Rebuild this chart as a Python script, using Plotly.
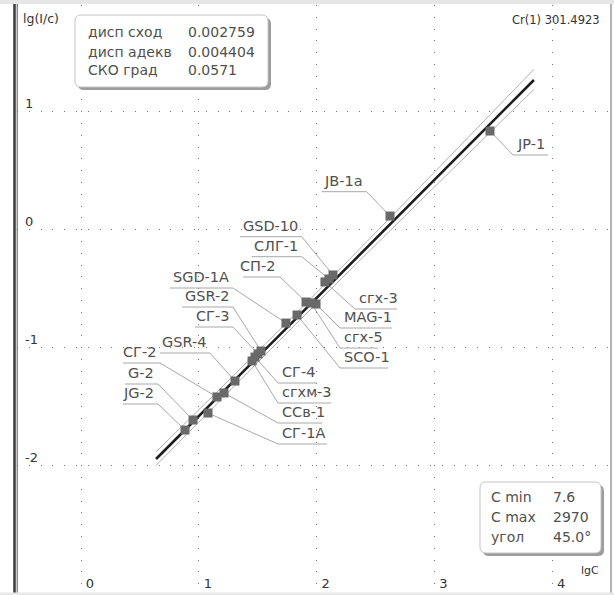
import plotly.graph_objects as go

# ---------------- data ----------------
samples = ["JP-1", "JB-1a", "GSD-10", "СЛГ-1", "сгх-3", "СП-2", "сгх-5", "MAG-1", "SCO-1", "SGD-1A",
           "GSR-2", "СГ-3", "СГ-4", "сгхм-3", "GSR-4", "ССв-1", "СГ-2", "СГ-1А", "G-2", "JG-2"]
lg_c = [3.472, 2.623, 2.139, 2.105, 2.071, 1.910, 1.952, 1.995, 1.834, 1.740,
        1.528, 1.503, 1.477, 1.452, 1.307, 1.214, 1.154, 1.078, 0.951, 0.883]
lg_i = [0.834, 0.114, -0.385, -0.419, -0.444, -0.614, -0.622, -0.631, -0.724, -0.792,
        -1.029, -1.054, -1.080, -1.113, -1.283, -1.384, -1.418, -1.554, -1.613, -1.698]

fit_x = [0.637, 3.845]
fit_y = [-1.943, 1.266]
band_x = [0.637, 2.0, 3.845]
band_upper = [-1.883, -0.535, 1.356]
band_lower = [-1.998, -0.625, 1.186]

stat_names = ["дисп сход", "дисп адекв", "СКО град"]
stat_vals = ["0.002759", "0.004404", "0.0571"]
range_names = ["C min", "C max", "угол"]
range_vals = ["7.6", "2970", "45.0°"]
element_title = "Cr(1) 301.4923"

x_ticks = [0, 1, 2, 3, 4]
y_ticks = [-3, -2, -1, 0, 1]
y_ticktext = ["", "-2", "-1", "0", "1"]

# ---------------- layout (pixel geometry) ----------------
FW, FH = 614, 595
L, R, T, B = 17, 4, 5, 0
W, H = FW - L - R, FH - T - B
X0, X1 = -0.5433, -0.5433 + W / 117.8
Y1 = (229.5 - T) / 118.1
Y0 = Y1 - H / 118.1


def xd(px):
    return X0 + (px - L) / W * (X1 - X0)


def yd(py):
    return Y1 - (py - T) / H * (Y1 - Y0)


def xp(px):
    return (px - L) / W


def yp(py):
    return (FH - B - py) / H


# label placement: side, underline y, underline x start/end (pixels)
label_side = ["R", "L", "L", "L", "R", "L", "R", "R", "R", "L",
              "L", "L", "R", "R", "L", "R", "L", "R", "L", "L"]
label_uy = [155, 191.7, 236.7, 256.7, 309, 277, 348, 328, 368, 288,
            307, 327, 383, 403, 353, 423, 363, 444, 384, 404]
label_ux0 = [513, 321.7, 240, 251.7, 355, 243, 340, 340, 340, 170,
             182, 195, 278, 278, 160, 278, 123, 278, 125, 123]
label_ux1 = [548, 366.7, 301.7, 301.7, 397, 280, 378, 392, 388, 233,
             233, 233, 317, 331, 210, 322, 160, 327, 158, 158]

FONT = "DejaVu Sans"
TXT = "#505050"

fig = go.Figure()

# leaders + underlines
lx, ly = [], []
for i in range(len(samples)):
    uy = yd(label_uy[i])
    a, b = xd(label_ux0[i]), xd(label_ux1[i])
    if label_side[i] == "L":
        lx += [a, b, lg_c[i], None]
        ly += [uy, uy, lg_i[i], None]
    else:
        lx += [lg_c[i], a, b, None]
        ly += [lg_i[i], uy, uy, None]
fig.add_trace(go.Scatter(x=lx, y=ly, mode="lines", line=dict(color="#a8a8a8", width=1),
                         hoverinfo="skip", showlegend=False))

# confidence band
fig.add_trace(go.Scatter(x=band_x, y=band_upper, mode="lines", line=dict(color="#b0b0b0", width=1, shape="spline"),
                         hoverinfo="skip", showlegend=False))
fig.add_trace(go.Scatter(x=band_x, y=band_lower, mode="lines", line=dict(color="#b0b0b0", width=1, shape="spline"),
                         hoverinfo="skip", showlegend=False))
# regression line
fig.add_trace(go.Scatter(x=fit_x, y=fit_y, mode="lines", line=dict(color="#1c1c1c", width=2.6),
                         hoverinfo="skip", showlegend=False))
# markers
fig.add_trace(go.Scatter(x=lg_c, y=lg_i, mode="markers", text=samples,
                         marker=dict(symbol="square", size=9, color="#696969", line=dict(width=0)),
                         showlegend=False))

ann = []
for i in range(len(samples)):
    if label_side[i] == "L":
        ann.append(dict(x=xp(label_ux1[i] - 2), y=yp(label_uy[i] - 1), xanchor="right", yanchor="bottom",
                        text=samples[i]))
    else:
        ann.append(dict(x=xp(label_ux0[i] + 2), y=yp(label_uy[i] - 1), xanchor="left", yanchor="bottom",
                        text=samples[i]))
for a_ in ann:
    a_.update(xref="paper", yref="paper", showarrow=False, font=dict(family=FONT, size=14.5, color=TXT))


def rrect(x0, y0, x1, y1, r):
    # pixel rounded rectangle -> paper path
    pts = [
        f"M {xp(x0 + r)},{yp(y0)}", f"L {xp(x1 - r)},{yp(y0)}", f"Q {xp(x1)},{yp(y0)} {xp(x1)},{yp(y0 + r)}",
        f"L {xp(x1)},{yp(y1 - r)}", f"Q {xp(x1)},{yp(y1)} {xp(x1 - r)},{yp(y1)}",
        f"L {xp(x0 + r)},{yp(y1)}", f"Q {xp(x0)},{yp(y1)} {xp(x0)},{yp(y1 - r)}",
        f"L {xp(x0)},{yp(y0 + r)}", f"Q {xp(x0)},{yp(y0)} {xp(x0 + r)},{yp(y0)}", "Z"]
    return " ".join(pts)


shapes = []
# frame
shapes.append(dict(type="rect", xref="paper", yref="paper", x0=xp(-2), x1=xp(FW + 2), y0=yp(-2), y1=yp(4),
                   fillcolor="#e6e6e6", line=dict(width=0), layer="above"))
shapes.append(dict(type="rect", xref="paper", yref="paper", x0=xp(-2), x1=xp(FW + 2), y0=yp(592.5), y1=yp(FH + 2),
                   fillcolor="#e8e8e8", line=dict(width=0), layer="above"))
shapes.append(dict(type="line", xref="paper", yref="paper", x0=xp(611), x1=xp(611), y0=yp(4), y1=yp(592.5),
                   line=dict(color="#9a9a9a", width=1.5), layer="above"))
shapes.append(dict(type="line", xref="paper", yref="paper", x0=xp(14.5), x1=xp(14.5), y0=yp(4), y1=yp(592.5),
                   line=dict(color="#3a3a3a", width=2.5), layer="above"))
shapes.append(dict(type="line", xref="paper", yref="paper", x0=xp(17.2), x1=xp(17.2), y0=yp(4), y1=yp(592.5),
                   line=dict(color="#555555", width=1), layer="above"))

# info boxes (shadow + box)
for (bx0, by0, bx1, by1) in [(75, 15, 268, 87), (480, 482, 601, 553)]:
    shapes.append(dict(type="path", xref="paper", yref="paper", path=rrect(bx0 + 3, by0 + 3, bx1 + 3, by1 + 3, 6),
                       fillcolor="#9c9c9c", line=dict(width=0), layer="above"))
    shapes.append(dict(type="path", xref="paper", yref="paper", path=rrect(bx0, by0, bx1, by1, 6),
                       fillcolor="white", line=dict(color="#c4c4c4", width=1), layer="above"))

for k in range(3):
    yy = 32.5 + 19 * k
    ann.append(dict(x=xp(86), y=yp(yy), text=stat_names[k], xanchor="left", yanchor="middle"))
    ann.append(dict(x=xp(186), y=yp(yy), text=stat_vals[k], xanchor="left", yanchor="middle"))
for k in range(3):
    yy = 497 + 20 * k
    ann.append(dict(x=xp(489), y=yp(yy), text=range_names[k], xanchor="left", yanchor="middle"))
    ann.append(dict(x=xp(551), y=yp(yy), text=range_vals[k], xanchor="left", yanchor="middle"))
for a_ in ann[-12:]:
    a_.update(xref="paper", yref="paper", showarrow=False, font=dict(family=FONT, size=14, color=TXT))

ann.append(dict(x=xp(602), y=yp(20), text=element_title, xanchor="right", yanchor="middle", xref="paper",
                yref="paper", showarrow=False, font=dict(family=FONT, size=11.5, color="#333")))
ann.append(dict(x=xp(21), y=yp(19), text="lg(I/c)", xanchor="left", yanchor="middle", xref="paper",
                yref="paper", showarrow=False, font=dict(family=FONT, size=12.5, color="#333")))
ann.append(dict(x=xp(601), y=yp(570), text="lgC", xanchor="right", yanchor="middle", xref="paper",
                yref="paper", showarrow=False, font=dict(family=FONT, size=11, color="#333")))

fig.update_layout(
    width=FW, height=FH, margin=dict(l=L, r=R, t=T, b=B, pad=0),
    paper_bgcolor="white", plot_bgcolor="white", showlegend=False,
    shapes=shapes, annotations=ann,
    xaxis=dict(range=[X0, X1], tickvals=x_ticks, ticktext=[str(v) for v in x_ticks], showgrid=True,
               gridcolor="#7a7a7a", gridwidth=1, griddash="1px,10.8px", zeroline=False, showline=False,
               ticks="", ticklabelposition="inside", ticklabelshift=9, ticklabelstandoff=1,
               tickfont=dict(family=FONT, size=13, color="#333"), fixedrange=True),
    yaxis=dict(range=[Y0, Y1], tickvals=y_ticks, ticktext=y_ticktext, showgrid=True,
               gridcolor="#7a7a7a", gridwidth=1, griddash="1px,10.8px", zeroline=False, showline=False,
               ticks="", ticklabelposition="inside", ticklabelshift=-8, ticklabelstandoff=5,
               tickfont=dict(family=FONT, size=13, color="#333"), fixedrange=True),
)

fig.write_html("out.html", config={"displayModeBar": False},
               post_script="document.body.style.margin='0px';document.body.style.overflow='hidden';")
